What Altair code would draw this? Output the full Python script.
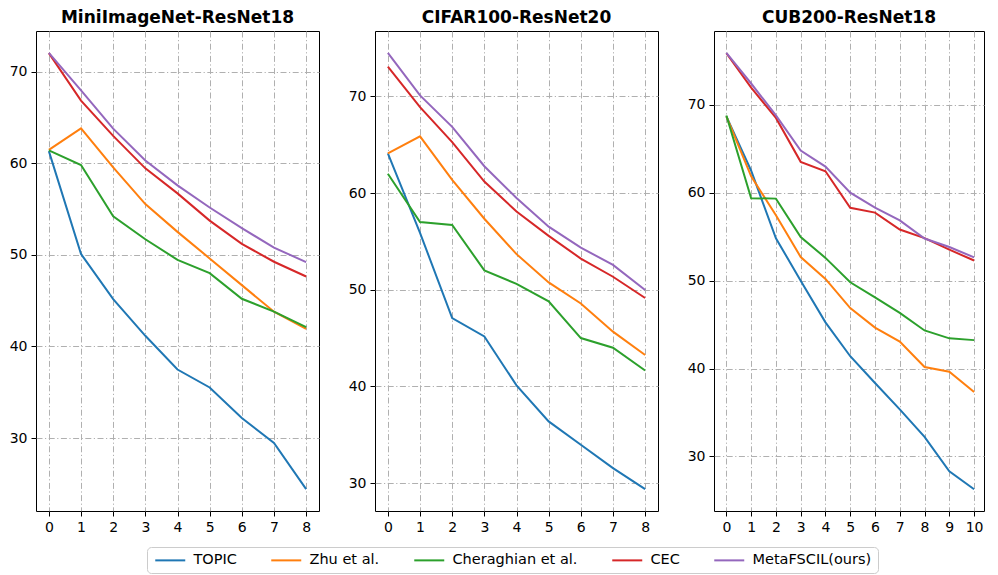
import altair as alt
import pandas as pd

series = ["TOPIC", "Zhu et al.", "Cheraghian et al.", "CEC", "MetaFSCIL(ours)"]
colors = ["#1f77b4", "#ff7f0e", "#2ca02c", "#d62728", "#9467bd"]
y_ticks = [30, 40, 50, 60, 70]

mini_sessions = [0, 1, 2, 3, 4, 5, 6, 7, 8]
mini_topic = [61.31, 50.09, 45.17, 41.16, 37.48, 35.52, 32.19, 29.46, 24.42]
mini_zhu = [61.45, 63.80, 59.53, 55.53, 52.50, 49.60, 46.69, 43.79, 41.92]
mini_cher = [61.40, 59.80, 54.20, 51.69, 49.45, 48.00, 45.20, 43.80, 42.10]
mini_cec = [72.00, 66.83, 62.97, 59.43, 56.70, 53.73, 51.19, 49.24, 47.63]
mini_meta = [72.04, 67.94, 63.77, 60.29, 57.58, 55.16, 52.90, 50.79, 49.19]

cifar_sessions = [0, 1, 2, 3, 4, 5, 6, 7, 8]
cifar_topic = [64.10, 55.88, 47.07, 45.16, 40.11, 36.38, 33.96, 31.55, 29.37]
cifar_zhu = [64.10, 65.86, 61.36, 57.34, 53.68, 50.75, 48.58, 45.66, 43.25]
cifar_cher = [62.00, 57.00, 56.70, 52.00, 50.60, 48.80, 45.00, 44.00, 41.64]
cifar_cec = [73.07, 68.88, 65.26, 61.19, 58.09, 55.57, 53.22, 51.34, 49.14]
cifar_meta = [74.50, 70.10, 66.84, 62.77, 59.48, 56.52, 54.36, 52.56, 49.97]

cub_sessions = [0, 1, 2, 3, 4, 5, 6, 7, 8, 9, 10]
cub_topic = [68.68, 62.49, 54.81, 49.99, 45.25, 41.40, 38.35, 35.36, 32.22, 28.31, 26.28]
cub_zhu = [68.68, 61.85, 57.43, 52.68, 50.19, 46.88, 44.65, 43.07, 40.17, 39.63, 37.33]
cub_cher = [68.78, 59.37, 59.32, 54.96, 52.58, 49.81, 48.09, 46.32, 44.33, 43.43, 43.23]
cub_cec = [75.85, 71.94, 68.50, 63.50, 62.43, 58.27, 57.73, 55.81, 54.83, 53.52, 52.28]
cub_meta = [75.90, 72.41, 68.78, 64.78, 62.96, 59.99, 58.30, 56.85, 54.78, 53.82, 52.64]

FONT = "DejaVu Sans"


def make_df(sessions, lists):
    rows = []
    for name, vals in zip(series, lists):
        for s, v in zip(sessions, vals):
            rows.append({"series": name, "session": s, "acc": v})
    return pd.DataFrame(rows)


def panel(title, sessions, lists, xdom, ydom, width):
    df = make_df(sessions, lists)
    return alt.Chart(df).mark_line(strokeWidth=2, clip=True).encode(
        x=alt.X("session:Q",
                scale=alt.Scale(domain=xdom, nice=False, zero=False),
                axis=alt.Axis(values=sessions, format="d", title=None)),
        y=alt.Y("acc:Q",
                scale=alt.Scale(domain=ydom, nice=False, zero=False),
                axis=alt.Axis(values=y_ticks, format="d", title=None)),
        color=alt.Color("series:N",
                        scale=alt.Scale(domain=series, range=colors),
                        legend=alt.Legend(orient="none", legendX=111, legendY=516,
                                          direction="horizontal", columns=5,
                                          title=None, symbolType="M-1,0H5",
                                          symbolSize=100, symbolStrokeWidth=2,
                                          symbolFillColor="transparent",
                                          labelFont=FONT, labelFontSize=14.5,
                                          labelColor="black", labelOffset=26,
                                          columnPadding=30, padding=6,
                                          strokeColor="#cccccc", fillColor="white",
                                          cornerRadius=4)),
    ).properties(
        width=width, height=480,
        title=alt.TitleParams(title, font=FONT, fontSize=17, fontWeight="bold",
                              color="black", anchor="middle", offset=4.5),
    )


p1 = panel("MiniImageNet-ResNet18", mini_sessions,
           [mini_topic, mini_zhu, mini_cher, mini_cec, mini_meta],
           [-0.4, 8.4], [22.04, 74.42], 283)
p2 = panel("CIFAR100-ResNet20", cifar_sessions,
           [cifar_topic, cifar_zhu, cifar_cher, cifar_cec, cifar_meta],
           [-0.4, 8.4], [27.11, 76.76], 283)
p3 = panel("CUB200-ResNet18", cub_sessions,
           [cub_topic, cub_zhu, cub_cher, cub_cec, cub_meta],
           [-0.5, 10.4], [23.80, 78.38], 270)

chart = alt.hconcat(p1, p2, p3, spacing=27).resolve_scale(
    x="independent", y="independent", color="shared"
).resolve_legend(color="shared").properties(
    padding={"left": 0, "top": 0, "right": 0, "bottom": 0}
).configure_view(
    stroke="black", strokeWidth=1
).configure_axis(
    grid=True, gridColor="#b0b0b0", gridDash=[6, 2.5, 1.2, 2.5], gridWidth=1,
    domain=False, ticks=True, tickColor="black", tickSize=5, tickWidth=1,
    labelPadding=4, labelFont=FONT, labelFontSize=14, labelColor="black",
)

chart.save("out.html", embed_options={"renderer": "svg", "actions": False})
